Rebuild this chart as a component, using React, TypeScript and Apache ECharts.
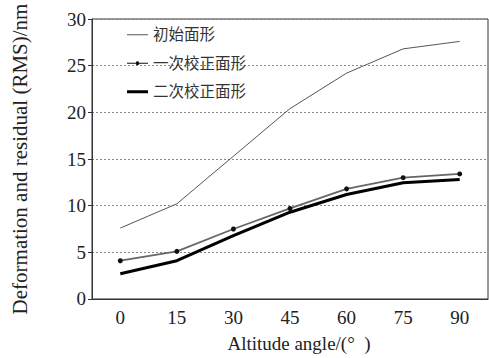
import React, { useEffect, useRef } from "react";
import * as echarts from "echarts";

const categories = ["0", "15", "30", "45", "60", "75", "90"];
const initialShape = [7.6, 10.2, 15.3, 20.4, 24.2, 26.8, 27.6];
const firstCorrection = [4.1, 5.1, 7.5, 9.7, 11.8, 13.0, 13.4];
const secondCorrection = [2.7, 4.1, 6.8, 9.3, 11.2, 12.45, 12.8];
const seriesNames = ["初始面形", "一次校正面形", "二次校正面形"];

const serif = "'Liberation Serif', 'Times New Roman', 'Noto Sans CJK SC', serif";

const iconThin = "path://M0,0h0.01v0.01z M0,6.5h21v1.1h-21z M0,14h0.01v-0.01z";
const iconDot =
  "path://M0,0h0.01v0.01z M0,6.5h8.6v1.1h-8.6z M12.4,6.5h8.6v1.1h-8.6z M8.6,7a1.9,1.9 0 1,1 3.8,0a1.9,1.9 0 1,1 -3.8,0z M0,14h0.01v-0.01z";
const iconThick = "path://M0,0h0.01v0.01z M0,5.5h21v3h-21z M0,14h0.01v-0.01z";

export default function App() {
  const ref = useRef<HTMLDivElement>(null);
  useEffect(() => {
    if (!ref.current) return;
    const chart = echarts.init(ref.current, undefined, { renderer: "svg" });
    chart.setOption({
      animation: false,
      backgroundColor: "#fff",
      grid: {
        left: 92,
        right: 1,
        top: 19,
        bottom: 56,
        show: true,
        borderColor: "#333",
        borderWidth: 1,
      },
      legend: {
        orient: "vertical",
        left: 122,
        top: 22,
        itemGap: 13,
        itemWidth: 21,
        itemHeight: 14,
        textStyle: { fontFamily: serif, fontSize: 15.5, color: "#333" },
        data: [
          { name: seriesNames[0], icon: iconThin },
          { name: seriesNames[1], icon: iconDot },
          { name: seriesNames[2], icon: iconThick },
        ],
      },
      xAxis: {
        type: "category",
        data: categories,
        boundaryGap: true,
        name: "Altitude angle/(°  )",
        nameLocation: "middle",
        nameGap: 35,
        nameTextStyle: { fontFamily: serif, fontSize: 19, color: "#222", padding: [0, 0, 0, 18] },
        axisLine: { lineStyle: { color: "#333", width: 1 } },
        axisTick: { inside: true, length: 5, lineStyle: { color: "#333" } },
        axisLabel: { fontFamily: serif, fontSize: 19, color: "#222", margin: 9 },
        splitLine: { show: false },
      },
      yAxis: {
        type: "value",
        min: 0,
        max: 30,
        interval: 5,
        name: "Deformation and residual (RMS)/nm",
        nameLocation: "middle",
        nameGap: 62,
        nameRotate: 90,
        nameTextStyle: { fontFamily: serif, fontSize: 21, color: "#222" },
        axisLine: { show: true, lineStyle: { color: "#333", width: 1 } },
        axisTick: { show: true, inside: false, length: 4, lineStyle: { color: "#333" } },
        axisLabel: { fontFamily: serif, fontSize: 19, color: "#222", margin: 6 },
        splitLine: { show: true, lineStyle: { color: "#888", type: [2, 2], width: 1 } },
      },
      series: [
        {
          name: seriesNames[0],
          type: "line",
          data: initialShape,
          symbol: "none",
          lineStyle: { color: "#555", width: 1 },
          itemStyle: { color: "#555" },
        },
        {
          name: seriesNames[1],
          type: "line",
          data: firstCorrection,
          symbol: "circle",
          symbolSize: 5,
          lineStyle: { color: "#666", width: 1.8 },
          itemStyle: { color: "#111" },
        },
        {
          name: seriesNames[2],
          type: "line",
          data: secondCorrection,
          symbol: "none",
          lineStyle: { color: "#000", width: 3 },
          itemStyle: { color: "#000" },
        },
      ],
    });
    return () => chart.dispose();
  }, []);
  return <div ref={ref} style={{ width: 489, height: 358, position: "absolute", left: 0, top: 0 }} />;
}
